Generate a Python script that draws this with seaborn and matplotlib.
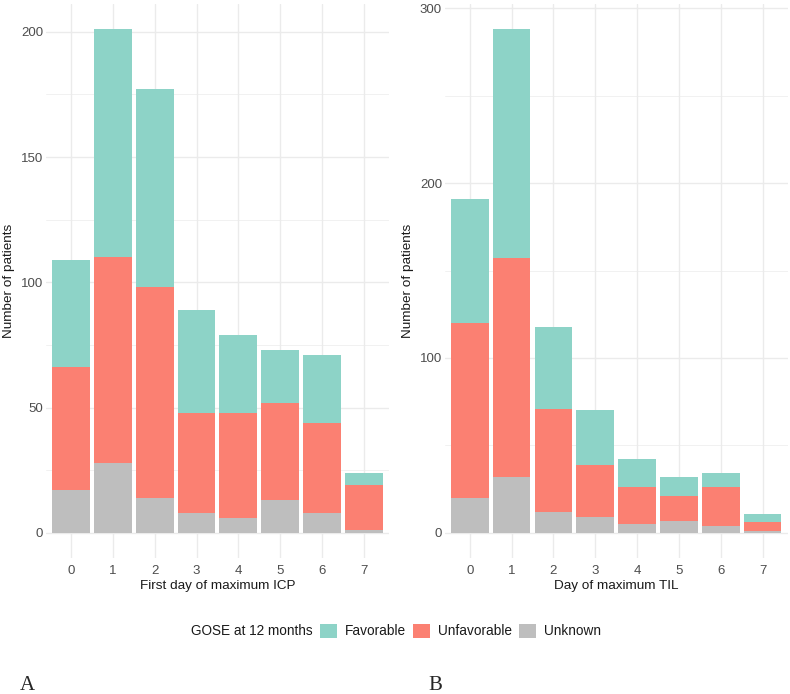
import numpy as np
import pandas as pd
import matplotlib
matplotlib.use("Agg")
import matplotlib.pyplot as plt
from matplotlib.patches import Patch
from matplotlib.ticker import MultipleLocator
import seaborn as sns

# counts, per day (0..7)
days = [0, 1, 2, 3, 4, 5, 6, 7]
outcomes = ["Favorable", "Unfavorable", "Unknown"]

icp_favorable = [43, 91, 79, 41, 31, 21, 27, 5]
icp_unfavorable = [49, 82, 84, 40, 42, 39, 36, 18]
icp_unknown = [17, 28, 14, 8, 6, 13, 8, 1]

til_favorable = [71, 131, 47, 31, 16, 11, 8, 5]
til_unfavorable = [100, 125, 59, 30, 21, 14, 22, 5]
til_unknown = [20, 32, 12, 9, 5, 7, 4, 1]

palette = {"Favorable": "#8DD3C7", "Unfavorable": "#FB8072", "Unknown": "#BEBEBE"}


def longFrame(fav, unfav, unk):
    rows = []
    for name, vals in zip(outcomes, [fav, unfav, unk]):
        for d, v in zip(days, vals):
            rows.append({"day": d, "outcome": name, "n": v})
    return pd.DataFrame(rows)


sns.set_theme(style="white")
plt.rcParams['font.family'] = ['Liberation Sans', 'DejaVu Sans']

fig = plt.figure(figsize=(7.9, 6.94), dpi=100)
axA = fig.add_axes([0.0582, 0.196, 0.434, 0.798])
axB = fig.add_axes([0.563, 0.196, 0.434, 0.798])

panels = [
    (axA, longFrame(icp_favorable, icp_unfavorable, icp_unknown), "First day of maximum ICP", 50),
    (axB, longFrame(til_favorable, til_unfavorable, til_unknown), "Day of maximum TIL", 100),
]

for ax, df, xlab, step in panels:
    sns.histplot(data=df, x="day", weights="n", hue="outcome", hue_order=outcomes,
                 multiple="stack", discrete=True, shrink=0.9, palette=palette,
                 alpha=1, edgecolor="none", linewidth=0, legend=False, ax=ax)
    totals = df.groupby("day")["n"].sum().max()
    ax.set_xlim(-0.6, 7.6)
    ax.set_ylim(-0.05 * totals, totals * 1.05)
    ax.set_xticks(days)
    ax.yaxis.set_major_locator(MultipleLocator(step))
    ax.yaxis.set_minor_locator(MultipleLocator(step / 2))
    ax.set_axisbelow(True)
    ax.grid(which="major", color="#EBEBEB", linewidth=1.0)
    ax.grid(which="minor", axis="y", color="#EBEBEB", linewidth=0.5)
    for s in ax.spines.values():
        s.set_visible(False)
    ax.tick_params(axis="both", which="both", length=0, labelsize=9.5, labelcolor="#4D4D4D")
    ax.tick_params(axis="x", pad=5)
    ax.tick_params(axis="y", pad=2)
    ax.set_xlabel(xlab, fontsize=9.7, color="#1A1A1A", labelpad=2)
    ax.set_ylabel("Number of patients", fontsize=9.7, color="#1A1A1A", labelpad=4)

handles = [Patch(facecolor=palette[o], edgecolor="none") for o in outcomes]
fig.legend(handles, outcomes, loc="center left", bbox_to_anchor=(320 / 790, 1 - 631 / 694),
           ncol=3, frameon=False, fontsize=9.8, handlelength=1.25, handleheight=1.25,
           handletextpad=0.55, columnspacing=0.55, labelcolor="#1A1A1A",
           borderpad=0, borderaxespad=0)
fig.text(313 / 790, 1 - 631 / 694, "GOSE at 12 months", ha="right", va="center",
         fontsize=9.8, color="#1A1A1A")

fig.text(20 / 790, 1 - 686 / 694, "A", family="Liberation Serif", fontsize=15, va="center")
fig.text(428 / 790, 1 - 686 / 694, "B", family="Liberation Serif", fontsize=15, va="center")

fig.savefig("out.png", dpi=100)
